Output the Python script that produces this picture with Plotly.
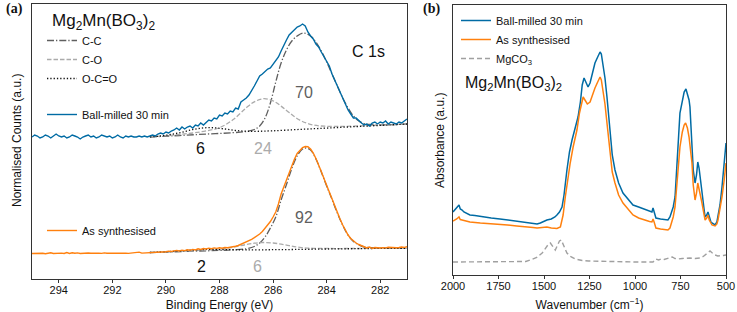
import plotly.graph_objects as go

# ---------------- Panel (a): XPS C 1s ----------------
# Binding energy sampling grid (eV), 295.0 -> 281.0 in 0.1 eV steps
energy = [round(295.0 - 0.1 * i, 1) for i in range(141)]

ball_milled_xps = [
    141, 143, 142, 140, 141, 143, 142, 140, 142, 144,
    142, 141, 142, 140, 141, 143, 142, 141, 139, 141,
    142, 143, 141, 142, 140, 141, 143, 142, 141, 142,
    140, 141, 143, 141, 140, 142, 141, 142, 141, 141,
    142, 141, 142, 141, 142, 143, 142, 144, 145, 144,
    146, 145, 147, 148, 150, 148, 151, 149, 151, 152,
    150, 153, 152, 155, 153, 156, 158, 157, 160, 159,
    163, 162, 165, 164, 167, 166, 170, 169, 176, 178,
    180, 183, 187, 192, 197, 202, 204, 207, 209, 210,
    214, 217, 221, 227, 233, 238, 243, 246, 249, 251,
    252, 254, 252, 246, 242, 239, 234, 231, 226, 221,
    216, 212, 204, 198, 192, 186, 181, 174, 168, 164,
    160, 160, 157, 155, 153, 154, 152, 155, 156, 154,
    156, 155, 157, 154, 156, 155, 154, 156, 155, 157,
    159,
]

as_synth_xps = [
    24.5, 24.7, 24.4, 24.6, 24.8, 24.3, 24.6, 25.2, 24.5, 24.7,
    24.4, 24.9, 24.5, 25.4, 24.6, 25.3, 24.7, 25.1, 24.5, 24.8,
    24.6, 25.0, 24.7, 24.9, 24.5, 24.8, 24.6, 25.1, 24.8, 25.0,
    24.7, 24.9, 24.8, 25.0, 24.7, 24.9, 24.6, 24.9, 24.8, 25.6,
    25.9, 24.9, 25.0, 25.2, 25.4, 25.7, 25.5, 26.1, 25.8, 26.4,
    26.2, 26.9, 26.5, 27.1, 27.6, 27.0, 27.8, 27.4, 28.2, 27.7,
    28.6, 28.1, 29.2, 28.6, 29.5, 29.0, 29.8, 29.3, 30.1, 29.6,
    30.2, 29.8, 30.5, 30.3, 30.6, 31.0, 31.8, 32.5, 33.6, 34.8,
    35.9, 37.0, 38.6, 40.3, 42.0, 44.0, 46.5, 49.5, 53.0, 56.5,
    61.0, 66.0, 74.0, 84.0, 91.0, 98.0, 106.0, 113.0, 119.0, 124.5,
    128.0, 130.5, 131.5, 131.3, 129.0, 125.0, 119.5, 113.5, 106.5, 99.5,
    92.5, 85.5, 79.0, 72.0, 65.0, 59.0, 53.0, 47.5, 43.0, 39.5,
    37.0, 35.0, 33.5, 32.5, 31.5, 30.0, 31.0, 29.6, 30.5, 30.2,
    30.0, 30.4, 30.1, 30.7, 30.3, 30.6, 30.2, 30.5, 31.0, 30.6,
    31.2,
]

# Fitted components, ball-milled (top)
cc_top_x = [290.6, 289.5, 288.5, 287.5, 287.0, 286.7, 286.5, 286.3, 286.1, 285.9,
            285.7, 285.5, 285.3, 285.1, 284.85, 284.6, 284.4, 284.2, 284.0, 283.8,
            283.6, 283.4, 283.2, 283.0, 282.8, 282.6, 282.4, 282.0, 281.0]
cc_top_y = [141, 142.5, 143.9, 145.3, 146.5, 148.5, 152, 160, 175, 196,
            215, 228, 237, 242, 245, 242, 236, 227, 216, 204,
            192, 180, 170, 162, 157, 154.5, 153.5, 153, 154]

co_top_x = [290.6, 290.0, 289.5, 289.0, 288.5, 288.0, 287.5, 287.0, 286.7, 286.35,
            286.0, 285.7, 285.4, 285.0, 284.5, 284.0, 283.5, 283.0, 282.0, 281.0]
co_top_y = [141.3, 142.3, 143.5, 145.0, 147.1, 150.3, 158.2, 170.2, 176.2, 179.3,
            177.1, 171.9, 165.4, 157.8, 153.0, 151.7, 151.6, 151.9, 152.9, 154.0]

oco_top_x = [290.6, 290.2, 289.8, 289.4, 289.0, 288.6, 288.2, 287.8, 287.4, 287.0,
             286.6, 286.0, 285.0, 284.0, 283.0, 282.0, 281.0]
oco_top_y = [141.1, 142.0, 143.6, 145.8, 148.4, 150.1, 150.2, 149.0, 147.5, 146.8,
             146.7, 147.2, 148.6, 149.9, 151.3, 152.6, 154.0]

# Fitted components, as synthesised (bottom)
cc_bot_x = [290.6, 289.0, 288.0, 287.5, 287.0, 286.7, 286.5, 286.3, 286.1, 285.9,
            285.7, 285.5, 285.3, 285.1, 284.9, 284.78, 284.6, 284.4, 284.2, 284.0,
            283.8, 283.6, 283.4, 283.2, 283.0, 282.8, 282.6, 282.4, 282.0, 281.0]
cc_bot_y = [25.5, 26.8, 27.6, 28.2, 29.2, 31.5, 35.0, 41.0, 50.0, 61.0,
            78.0, 93.5, 109.5, 122.0, 129.0, 130.0, 128.0, 119.0, 106.0, 92.0,
            78.7, 64.8, 52.8, 42.8, 36.5, 33.2, 31.0, 30.5, 29.8, 29.7]

co_bot_x = [290.6, 289.5, 288.5, 288.0, 287.5, 287.0, 286.7, 286.35, 286.0, 285.7,
            285.4, 285.0, 284.5, 284.0, 283.0, 282.0, 281.0]
co_bot_y = [25.5, 26.6, 27.9, 28.8, 30.7, 33.5, 34.8, 35.5, 35.0, 33.9,
            32.4, 30.7, 29.7, 29.5, 29.5, 29.6, 29.7]

oco_bot_x = [290.6, 290.0, 289.5, 289.0, 288.6, 288.2, 287.6, 287.0, 286.0, 285.0,
             284.0, 283.0, 282.0, 281.0]
oco_bot_y = [25.5, 26.2, 27.0, 28.0, 28.5, 28.5, 28.3, 28.1, 28.3, 28.6,
             29.0, 29.3, 29.6, 29.7]

# Component percentages (label, x, y, colour key)
pct_labels = ["70", "6", "24", "92", "2", "6"]
pct_x = [284.84, 288.71, 286.37, 284.84, 288.68, 286.59]
pct_y = [185, 130, 130, 61, 12, 12]
pct_col = ["cc", "oco", "co", "cc", "oco", "co"]

xps_ticks = [294, 292, 290, 288, 286, 284, 282]

# ---------------- Panel (b): FTIR ----------------
wn_blue = [2000, 1989, 1980, 1967, 1960, 1950, 1940, 1925, 1907, 1880,
           1850, 1820, 1790, 1742, 1700, 1650, 1600, 1560, 1538, 1520,
           1500, 1484, 1460, 1440, 1429, 1415, 1401, 1390, 1374, 1360,
           1346, 1330, 1313, 1300, 1290, 1280, 1270, 1258, 1247, 1235,
           1220, 1205, 1192, 1185, 1176, 1165, 1154, 1145, 1137, 1125,
           1110, 1090, 1066, 1040, 1011, 980, 950, 920, 907, 901,
           895, 885, 860, 840, 819, 808, 797, 790, 780, 770,
           760, 753, 740, 730, 720, 710, 703, 698, 692, 687,
           680, 670, 662, 655, 648, 640, 632, 622, 615, 606,
           599, 592, 583, 577, 560, 550, 544, 533, 522, 510, 500]
ab_blue = [63, 65, 67, 70, 66, 65, 63, 62, 60, 59.5,
           58.5, 58, 57, 56, 55, 53.5, 52.5, 51.5, 51, 52,
           54, 55, 56, 58, 60, 63, 68, 80, 105, 123,
           135, 147, 158, 173, 190, 197, 193, 188, 192, 202,
           212, 218, 223, 221, 212, 197, 178, 158, 138, 120,
           105, 92, 82, 76, 70, 68, 66, 63.5, 63, 67,
           64, 57, 56, 55.5, 55, 58, 65, 68, 78, 105,
           140, 162, 175, 183, 186, 180, 175, 168, 150, 128,
           105, 92, 100, 113, 107, 95, 85, 68, 58, 60,
           63, 58, 53, 52, 50, 53, 58, 70, 88, 110, 132]

wn_orange = [2000, 1989, 1980, 1967, 1960, 1950, 1925, 1907, 1850, 1800,
             1742, 1700, 1650, 1600, 1560, 1538, 1510, 1484, 1460, 1429,
             1410, 1395, 1383, 1370, 1356, 1340, 1319, 1305, 1292, 1285,
             1275, 1262, 1247, 1235, 1220, 1205, 1192, 1185, 1176, 1165,
             1154, 1145, 1137, 1125, 1110, 1090, 1066, 1040, 1011, 980,
             950, 920, 907, 901, 895, 885, 860, 840, 819, 808,
             797, 790, 780, 770, 760, 753, 740, 730, 722, 712,
             703, 698, 692, 687, 680, 670, 662, 655, 648, 640,
             632, 622, 615, 606, 599, 592, 583, 577, 560, 550,
             544, 533, 522, 510, 500]
ab_orange = [54, 55, 56, 58, 55.5, 55, 53.5, 53, 52, 51.5,
             51, 50, 49, 48.5, 47.5, 47, 47.5, 48, 47, 46.5,
             48, 60, 78, 95, 112, 128, 145, 162, 175, 178,
             175, 171, 173, 180, 187, 193, 198, 195, 185, 171,
             152, 135, 118, 103, 92, 80, 72, 66, 60, 57,
             55, 53.5, 53, 56, 53, 47, 46, 45.5, 45, 47,
             53, 58, 68, 90, 115, 128, 143, 150, 152, 147,
             138, 132, 120, 112, 90, 75, 82, 92, 87, 79,
             72, 62, 55, 57, 60, 55, 51, 50, 49, 51,
             55, 65, 78, 95, 112]

wn_mgco3 = [2000, 1800, 1600, 1575, 1540, 1510, 1490, 1475, 1465, 1455,
            1438, 1425, 1415, 1405, 1395, 1385, 1374, 1350, 1328, 1290,
            1255, 1000, 901, 885, 870, 857, 840, 813, 795, 780,
            767, 740, 698, 670, 643, 625, 615, 600, 588, 575,
            560, 545, 533, 515, 500]
ab_mgco3 = [13, 13, 13.5, 15, 17.5, 22, 27, 31, 32, 29,
            25, 30, 34, 35, 31, 26, 22, 18, 16, 14.5,
            14, 13, 13, 16, 15, 16, 15.5, 17, 18, 16.5,
            16, 16.5, 17, 16.5, 17, 18.5, 20, 23, 24, 22,
            20, 19, 19, 19.5, 20]

ftir_ticks = [2000, 1750, 1500, 1250, 1000, 750, 500]

# ---------------- Styling ----------------
BLUE = "#006BA4"
ORANGE = "#FF800E"
DARK = "#5f5f5f"
LIGHT = "#ababab"
TXT = "#111111"
FONT = "Liberation Sans, Arial, sans-serif"
W, H = 737, 312


def px(x):
    return x / W


def py(y):
    return 1 - y / H


fig = go.Figure()

comp_style = dict(
    cc=dict(color=DARK, dash="7px,2px,1.3px,2px", name="C-C"),
    co=dict(color=LIGHT, dash="4.5px,2px", name="C-O"),
    oco=dict(color=TXT, dash="1.3px,2px", name="O-C=O"),
)

for key, xs, ys in [("cc", cc_top_x, cc_top_y), ("co", co_top_x, co_top_y), ("oco", oco_top_x, oco_top_y)]:
    st = comp_style[key]
    fig.add_trace(go.Scatter(x=xs, y=ys, mode="lines", name=st["name"], line_shape="spline",
                             line=dict(color=st["color"], width=1.3, dash=st["dash"]),
                             xaxis="x", yaxis="y", legend="legend", showlegend=True))
for key, xs, ys in [("cc", cc_bot_x, cc_bot_y), ("co", co_bot_x, co_bot_y), ("oco", oco_bot_x, oco_bot_y)]:
    st = comp_style[key]
    fig.add_trace(go.Scatter(x=xs, y=ys, mode="lines", name=st["name"], line_shape="spline",
                             line=dict(color=st["color"], width=1.3, dash=st["dash"]),
                             xaxis="x", yaxis="y", showlegend=False))

fig.add_trace(go.Scatter(x=energy, y=ball_milled_xps, mode="lines", name="Ball-milled 30 min",
                         line=dict(color=BLUE, width=1.4), xaxis="x", yaxis="y", legend="legend2"))
fig.add_trace(go.Scatter(x=energy, y=as_synth_xps, mode="lines", name="As synthesised",
                         line=dict(color=ORANGE, width=1.4), xaxis="x", yaxis="y", legend="legend3"))

fig.add_trace(go.Scatter(x=wn_blue, y=ab_blue, mode="lines", name="Ball-milled 30 min",
                         line=dict(color=BLUE, width=1.5), xaxis="x2", yaxis="y2", legend="legend4"))
fig.add_trace(go.Scatter(x=wn_orange, y=ab_orange, mode="lines", name="As synthesised",
                         line=dict(color=ORANGE, width=1.5), xaxis="x2", yaxis="y2", legend="legend4"))
fig.add_trace(go.Scatter(x=wn_mgco3, y=ab_mgco3, mode="lines", name="MgCO<sub>3</sub>",
                         line=dict(color="#a0a0a0", width=1.4, dash="5px,3px"), xaxis="x2", yaxis="y2",
                         legend="legend4"))

axis_common = dict(showline=True, mirror=True, linecolor="#333333", linewidth=1,
                   showgrid=False, zeroline=False, ticks="outside", ticklen=3,
                   ticklabelstandoff=-2,
                   tickcolor="#333333", tickfont=dict(family=FONT, size=11, color=TXT))
yaxis_common = dict(showline=True, mirror=True, linecolor="#333333", linewidth=1,
                    showgrid=False, zeroline=False, showticklabels=False, ticks="")

legend_common = dict(bgcolor="rgba(0,0,0,0)", borderwidth=0, font=dict(family=FONT, size=11, color=TXT),
                     xanchor="left", yanchor="top", itemclick=False, itemdoubleclick=False)

annotations = []
for lab, x, y, c in zip(pct_labels, pct_x, pct_y, pct_col):
    col = {"cc": DARK, "co": LIGHT, "oco": TXT}[c]
    annotations.append(dict(x=x, y=y, xref="x", yref="y", text=lab, showarrow=False,
                            xanchor="center", yanchor="middle",
                            font=dict(family=FONT, size=16, color=col)))


def pnote(text, x, y, size, family=FONT, xanchor="center", angle=0):
    return dict(x=px(x), y=py(y), xref="paper", yref="paper", text=text, showarrow=False,
                xanchor=xanchor, yanchor="middle", textangle=angle,
                font=dict(family=family, size=size, color=TXT))


annotations += [
    dict(x=282.45, y=226, xref="x", yref="y", text="C 1s", showarrow=False,
         xanchor="center", yanchor="middle", font=dict(family=FONT, size=16, color=TXT)),
    pnote("Mg<sub>2</sub>Mn(BO<sub>3</sub>)<sub>2</sub>", 50, 22, 17, xanchor="left"),
    pnote("Mg<sub>2</sub>Mn(BO<sub>3</sub>)<sub>2</sub>", 463, 84, 16, xanchor="left"),
    pnote("<b>(a)</b>", 14, 9, 14, family="Liberation Serif, Times New Roman, serif"),
    pnote("<b>(b)</b>", 431, 9, 14, family="Liberation Serif, Times New Roman, serif"),
    pnote("Normalised Counts (a.u.)", 17, 141, 12, angle=-90),
    pnote("Absorbance (a.u.)", 440, 140, 12, angle=-90),
]

fig.update_layout(
    width=W, height=H,
    margin=dict(l=0, r=0, t=0, b=0, autoexpand=False),
    paper_bgcolor="white", plot_bgcolor="white",
    template="none",
    xaxis=dict(domain=[px(32), px(407)], range=[295, 281], tickvals=xps_ticks,
               title=dict(text="Binding Energy (eV)", font=dict(family=FONT, size=12, color=TXT)),
               anchor="y", **axis_common),
    yaxis=dict(domain=[py(279), py(4)], range=[-1, 274], anchor="x", **yaxis_common),
    xaxis2=dict(domain=[px(453), px(726)], range=[2000, 500], tickvals=ftir_ticks,
                title=dict(text="Wavenumber (cm<sup>\u22121</sup>)", font=dict(family=FONT, size=12, color=TXT)),
                anchor="y2", **axis_common),
    yaxis2=dict(domain=[py(275), py(5)], range=[0, 270], anchor="x2", **yaxis_common),
    legend=dict(x=px(42), y=py(26), **legend_common),
    legend2=dict(x=px(42), y=py(100), **legend_common),
    legend3=dict(x=px(42), y=py(216), **legend_common),
    legend4=dict(x=px(456), y=py(6), **legend_common),
    annotations=annotations,
    showlegend=True,
)

fig.write_html("out.html", config={"displayModeBar": False},
               post_script="document.body.style.margin='0px';")
